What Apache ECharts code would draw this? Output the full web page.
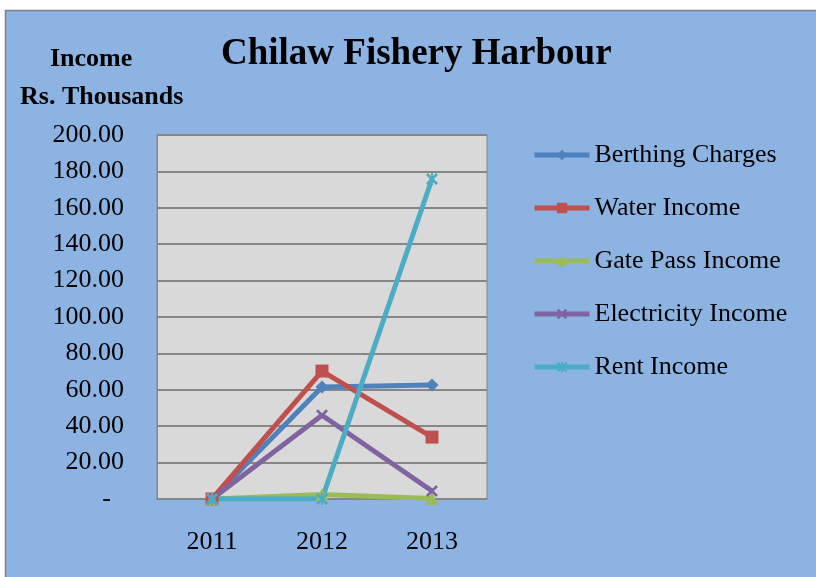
<!DOCTYPE html>
<html>
<head>
<meta charset="utf-8">
<style>
  html, body { margin: 0; padding: 0; background: #ffffff; }
  #chart { width: 816px; height: 577px; }
</style>
<script src="https://cdn.jsdelivr.net/npm/echarts@6/dist/echarts.min.js"></script>
</head>
<body>
<div id="chart"></div>
<script>
// Harbour income by year, Rs. thousands
var years = ['2011', '2012', '2013'];
var berthingCharges = [0, 61.5, 62.6];
var waterIncome = [0, 70.3, 34.0];
var gatePassIncome = [0, 2.5, 0.3];
var electricityIncome = [0, 46.0, 4.4];
var rentIncome = [0, 0, 175.8];
var yTicks = { min: 0, max: 200, step: 20 };

var FONT = '"Liberation Serif", "Times New Roman", serif';

// marker shapes: a filled X and a six-armed asterisk
var crossSymbol = 'path://M1.6,0L5,3.4L8.4,0L10,1.6L6.6,5L10,8.4L8.4,10L5,6.6L1.6,10L0,8.4L3.4,5L0,1.6Z';
var starSymbol = 'path://M1.6,0L5,3.4L8.4,0L10,1.6L6.6,5L10,8.4L8.4,10L5,6.6L1.6,10L0,8.4L3.4,5L0,1.6Z M4.2,0L5.8,0L5.8,10L4.2,10Z';

function lineSeries(name, data, color, symbol, size) {
  return {
    name: name,
    type: 'line',
    data: data,
    symbol: symbol,
    symbolSize: size,
    showAllSymbol: true,
    lineStyle: { color: color, width: 5 },
    itemStyle: { color: color },
    emphasis: { disabled: true },
    z: 3
  };
}

var chart = echarts.init(document.getElementById('chart'), null, { renderer: 'canvas' });

chart.setOption({
  animation: false,
  backgroundColor: '#ffffff',
  graphic: [{
    type: 'rect',
    shape: { x: 5.5, y: 10.5, width: 900, height: 700 },
    style: { fill: '#8DB3E2', stroke: '#7F7F7F', lineWidth: 1.5 },
    z: -10
  }],
  title: [
    {
      text: 'Chilaw Fishery Harbour',
      left: 216, top: 31,
      textStyle: { fontFamily: FONT, fontSize: 37, fontWeight: 'bold', color: '#000' }
    },
    {
      text: 'Income',
      left: 45, top: 41,
      textStyle: { fontFamily: FONT, fontSize: 26, fontWeight: 'bold', color: '#000' }
    },
    {
      text: 'Rs. Thousands',
      left: 15, top: 79,
      textStyle: { fontFamily: FONT, fontSize: 26, fontWeight: 'bold', color: '#000' }
    }
  ],
  legend: {
    orient: 'vertical',
    left: 527,
    top: 137,
    itemWidth: 55,
    itemHeight: 13,
    itemGap: 27,
    lineStyle: { width: 5 },
    textStyle: { fontFamily: FONT, fontSize: 26, color: '#000', lineHeight: 26 },
    data: ['Berthing Charges', 'Water Income', 'Gate Pass Income', 'Electricity Income', 'Rent Income']
  },
  grid: {
    left: 157, top: 135, width: 330, height: 364,
    show: true,
    backgroundColor: '#D9D9D9',
    borderColor: '#868686',
    borderWidth: 1
  },
  xAxis: {
    type: 'category',
    data: years,
    boundaryGap: true,
    axisLine: { lineStyle: { color: '#868686', width: 1 } },
    axisTick: { show: false },
    axisLabel: { fontFamily: FONT, fontSize: 26, color: '#000', margin: 30 }
  },
  yAxis: {
    type: 'value',
    min: yTicks.min,
    max: yTicks.max,
    interval: yTicks.step,
    axisLine: { show: true, lineStyle: { color: '#868686' } },
    axisTick: { show: false },
    splitLine: { lineStyle: { color: '#868686', width: 2 } },
    axisLabel: {
      fontFamily: FONT, fontSize: 26, color: '#000', margin: 33,
      formatter: function (v) { return v === 0 ? '-  ' : v.toFixed(2); }
    }
  },
  series: [
    lineSeries('Berthing Charges', berthingCharges, '#4F81BD', 'diamond', 13),
    lineSeries('Water Income', waterIncome, '#C0504D', 'rect', 13),
    lineSeries('Gate Pass Income', gatePassIncome, '#9BBB59', 'triangle', 13),
    lineSeries('Electricity Income', electricityIncome, '#8064A2', crossSymbol, 12),
    lineSeries('Rent Income', rentIncome, '#4BACC6', starSymbol, 12)
  ]
});
</script>
</body>
</html>
